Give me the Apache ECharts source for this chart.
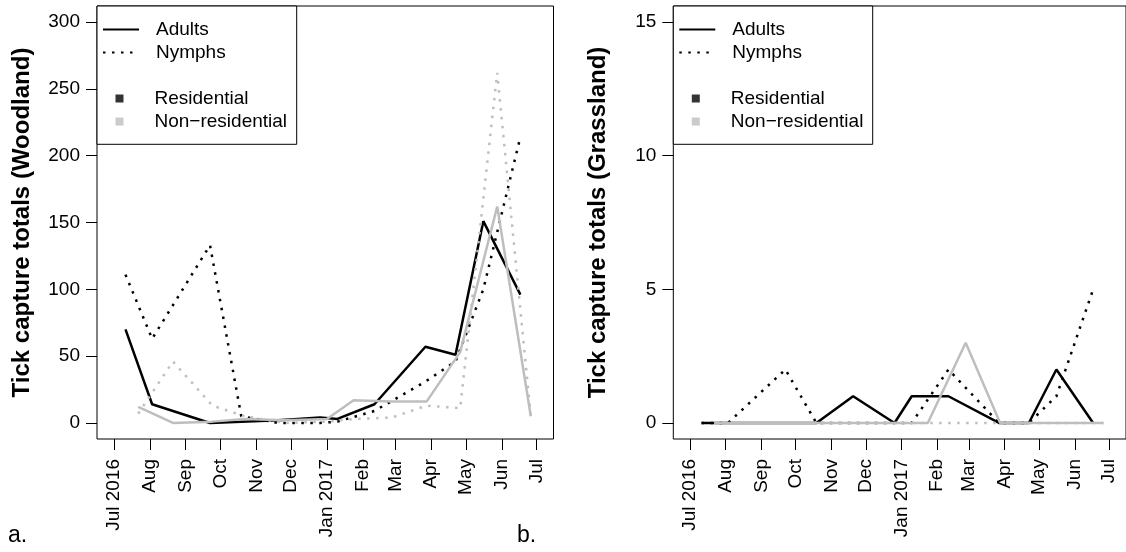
<!DOCTYPE html>
<html>
<head>
<meta charset="utf-8">
<script src="https://cdn.jsdelivr.net/npm/echarts@6/dist/echarts.min.js"></script>
<style>
html,body{margin:0;padding:0;background:#fff;}
#chart{width:1126px;height:552px;}
</style>
</head>
<body>
<div id="chart"></div>
<script>
// ---------- DATA ----------
const monthTickDates = ['2016-07-01','2016-08-01','2016-09-01','2016-10-01','2016-11-01','2016-12-01','2017-01-01','2017-02-01','2017-03-01','2017-04-01','2017-05-01','2017-06-01','2017-07-01'];
const monthTickLabels = ['Jul 2016','Aug','Sep','Oct','Nov','Dec','Jan 2017','Feb','Mar','Apr','May','Jun','Jul'];

const residentialDates = ['2016-07-11','2016-08-03','2016-09-22','2016-10-19','2016-11-20','2016-12-26','2017-01-10','2017-02-11','2017-03-27','2017-04-22','2017-05-16','2017-06-17'];
const nonResidentialDates = ['2016-07-22','2016-08-21','2016-09-24','2016-10-22','2016-11-26','2017-01-01','2017-01-24','2017-02-26','2017-03-28','2017-04-26','2017-05-28','2017-06-26'];

// Woodland
const woodAdultsRes    = [70, 14, 0, 1, 2, 4, 3, 14, 57, 51, 151, 96];
const woodNymphsRes    = [111, 63, 133, 5, 0, 0, 1, 9, 31, 46, 100, 214];
const woodAdultsNonRes = [12, 0, 1, 3, 2, 3, 17, 16, 16, 53, 162, 5];
const woodNymphsNonRes = [7, 46, 13, 5, 0, 1, 3, 4, 13, 11, 262, 5];

// Grassland
const grassAdultsRes    = [0, 0, 0, 0, 1, 0, 1, 1, 0, 0, 2, 0];
const grassNymphsRes    = [0, 0, 2, 0, 0, 0, 0, 2, 0, 0, 1, 5];
const grassAdultsNonRes = [0, 0, 0, 0, 0, 0, 0, 3, 0, 0, 0, 0];
const grassNymphsNonRes = [0, 0, 0, 0, 0, 0, 0, 0, 0, 0, 0, 0];

const woodYTicks  = [0, 50, 100, 150, 200, 250, 300];
const grassYTicks = [0, 5, 10, 15];

// ---------- HELPERS ----------
const FONT = "'Liberation Sans', Arial, Helvetica, sans-serif";
const BLACK = '#000000';
const GRAY = '#BEBEBE';
const origin = Date.UTC(2016, 6, 1);
function dayOf(s) {
  const p = s.split('-').map(Number);
  return (Date.UTC(p[0], p[1] - 1, p[2]) - origin) / 86400000;
}
const tickDays = monthTickDates.map(dayOf);
const labelByDay = {};
tickDays.forEach((d, i) => { labelByDay[d] = monthTickLabels[i]; });
function pairs(dates, vals) { return dates.map((d, i) => [dayOf(d), vals[i]]); }

// x range: Jul 1 2016 .. Jul 1 2017 extended by 4% (R style)
const xSpan = tickDays[tickDays.length - 1] - tickDays[0];
const xMin = tickDays[0] - 0.04 * xSpan;
const xMax = tickDays[tickDays.length - 1] + 0.04 * xSpan;

function xAxisDef(gi) {
  return {
    gridIndex: gi, type: 'value', min: xMin, max: xMax,
    axisLine: { show: false, onZero: false },
    splitLine: { show: false },
    axisTick: { show: true, customValues: tickDays, length: 11, inside: false, lineStyle: { color: BLACK, width: 1 } },
    axisLabel: { customValues: tickDays, rotate: 90, margin: 20, fontSize: 19, fontFamily: FONT, color: BLACK,
      formatter: v => labelByDay[v] !== undefined ? labelByDay[v] : '' }
  };
}
function yAxisDef(gi, ticks, name) {
  const top = ticks[ticks.length - 1];
  return {
    gridIndex: gi, type: 'value', min: -0.04 * top, max: top * 1.04,
    name: name, nameLocation: 'middle', nameGap: 63, nameRotate: 90,
    nameTextStyle: { fontSize: 24, fontWeight: 'bold', fontFamily: FONT, color: BLACK },
    axisLine: { show: false, onZero: false },
    splitLine: { show: false },
    axisTick: { show: true, customValues: ticks, length: 11, inside: false, lineStyle: { color: BLACK, width: 1 } },
    axisLabel: { customValues: ticks, margin: 17, fontSize: 19, fontFamily: FONT, color: BLACK, formatter: v => String(v) }
  };
}
const SOLID = { width: 2.5, type: 'solid' };
const DOTTED = { width: 2.5, type: [2.5, 6.5], cap: 'butt' };
function lineSeries(name, gi, data, color, style) {
  return {
    name: name, type: 'line', xAxisIndex: gi, yAxisIndex: gi, data: data,
    symbol: 'none', silent: true, animation: false,
    lineStyle: Object.assign({ color: color }, style), itemStyle: { color: color }
  };
}

const series = [
  lineSeries('Woodland adults residential', 0, pairs(residentialDates, woodAdultsRes), BLACK, SOLID),
  lineSeries('Woodland nymphs residential', 0, pairs(residentialDates, woodNymphsRes), BLACK, DOTTED),
  lineSeries('Woodland adults non-residential', 0, pairs(nonResidentialDates, woodAdultsNonRes), GRAY, SOLID),
  lineSeries('Woodland nymphs non-residential', 0, pairs(nonResidentialDates, woodNymphsNonRes), GRAY, DOTTED),
  lineSeries('Grassland adults residential', 1, pairs(residentialDates, grassAdultsRes), BLACK, SOLID),
  lineSeries('Grassland nymphs residential', 1, pairs(residentialDates, grassNymphsRes), BLACK, DOTTED),
  lineSeries('Grassland adults non-residential', 1, pairs(nonResidentialDates, grassAdultsNonRes), GRAY, SOLID),
  lineSeries('Grassland nymphs non-residential', 1, pairs(nonResidentialDates, grassNymphsNonRes), GRAY, DOTTED),
  // legend-only entries
  lineSeries('Adults', 0, [], BLACK, SOLID),
  lineSeries('Nymphs', 0, [], BLACK, DOTTED),
  { name: 'Residential', type: 'scatter', xAxisIndex: 0, yAxisIndex: 0, data: [], symbol: 'rect', itemStyle: { color: BLACK } },
  { name: 'Non\u2212residential', type: 'scatter', xAxisIndex: 0, yAxisIndex: 0, data: [], symbol: 'rect', itemStyle: { color: GRAY } }
];

const gridW = 456.5, gridH = 433, gridTop = 6;
const grids = [
  { left: 97, top: gridTop, width: gridW, height: gridH, show: true, borderColor: BLACK, borderWidth: 1, backgroundColor: 'transparent' },
  { left: 673.3, top: gridTop, width: gridW, height: gridH, show: true, borderColor: BLACK, borderWidth: 1, backgroundColor: 'transparent' }
];

function lineLegend(left) {
  return {
    left: left, top: 18, orient: 'vertical', padding: 0, itemGap: 0,
    itemWidth: 36, itemHeight: 14, selectedMode: false,
    data: ['Adults', 'Nymphs'],
    itemStyle: { opacity: 0, color: 'rgba(0,0,0,0)', borderWidth: 0 },
    textStyle: { fontSize: 19, fontFamily: FONT, color: BLACK, lineHeight: 23, padding: [0, 0, 0, 12] }
  };
}
function boxLegend(left) {
  return {
    left: left, top: 87, orient: 'vertical', padding: 0, itemGap: 0,
    itemWidth: 8, itemHeight: 8, icon: 'rect', selectedMode: false,
    data: ['Residential', 'Non\u2212residential'],
    textStyle: { fontSize: 19, fontFamily: FONT, color: BLACK, lineHeight: 23, padding: [0, 0, 0, 26] }
  };
}

const option = {
  backgroundColor: '#ffffff',
  animation: false,
  grid: grids,
  xAxis: [xAxisDef(0), xAxisDef(1)],
  yAxis: [yAxisDef(0, woodYTicks, 'Tick capture totals (Woodland)'), yAxisDef(1, grassYTicks, 'Tick capture totals (Grassland)')],
  legend: [lineLegend(102), boxLegend(115.5), lineLegend(678.3), boxLegend(691.8)],
  graphic: [
    { type: 'rect', shape: { x: 97, y: 6, width: 199.7, height: 138.3 }, style: { fill: '#fff', stroke: BLACK, lineWidth: 1 }, z: 3, silent: true },
    { type: 'rect', shape: { x: 673.3, y: 6, width: 199.4, height: 138.3 }, style: { fill: '#fff', stroke: BLACK, lineWidth: 1 }, z: 3, silent: true },
    { type: 'text', left: 8, top: 524, style: { text: 'a.', fontSize: 23, fontFamily: FONT, fill: BLACK }, z: 5 },
    { type: 'text', left: 517, top: 524, style: { text: 'b.', fontSize: 23, fontFamily: FONT, fill: BLACK }, z: 5 }
  ],
  series: series
};

const chart = echarts.init(document.getElementById('chart'), null, { renderer: 'canvas' });
chart.setOption(option);
</script>
</body>
</html>
